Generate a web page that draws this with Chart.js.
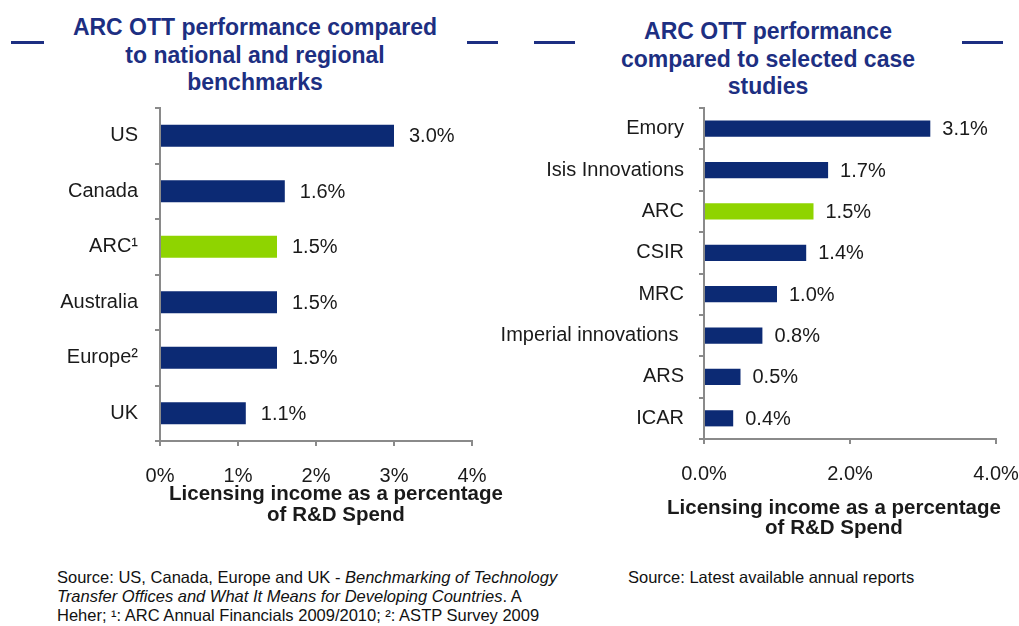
<!DOCTYPE html>
<html>
<head>
<meta charset="utf-8">
<script src="https://cdn.jsdelivr.net/npm/chart.js@4.4.0/dist/chart.umd.min.js"></script>
<style>
  body { margin: 0; background: #fff; font-family: "Liberation Sans", Arial, sans-serif; }
  #page { position: relative; width: 1019px; height: 626px; overflow: hidden; }
  .title { position: absolute; text-align: center; font-weight: bold; font-size: 23px; line-height: 27.5px; color: #1d2f82; }
  .dash { position: absolute; height: 3px; background: #1d2f82; top: 41px; }
  .axis-title { position: absolute; text-align: center; font-weight: bold; font-size: 20.5px; color: #1a1a1a; white-space: nowrap; }
  .note { position: absolute; font-size: 16.5px; line-height: 19px; color: #111; white-space: nowrap; }
  canvas { position: absolute; top: 0; }
</style>
</head>
<body>
<div id="page">
  <div class="dash" style="left:11px;width:33px"></div>
  <div class="dash" style="left:467px;width:31px"></div>
  <div class="title" style="left:45px;width:420px;top:14px">ARC OTT performance compared<br>to national and regional<br>benchmarks</div>

  <div class="dash" style="left:534px;width:41px"></div>
  <div class="dash" style="left:962px;width:41px"></div>
  <div class="title" style="left:568px;width:400px;top:18px">ARC OTT performance<br>compared to selected case<br>studies</div>

  <div style="position:absolute;left:0;top:0;width:507px;height:626px;overflow:hidden">
    <canvas id="leftChart" style="left:0"></canvas>
    <div class="axis-title" style="left:136px;width:400px;top:482px;line-height:21px">Licensing income as a percentage<br>of R&amp;D Spend</div>
  </div>
  <canvas id="rightChart" style="left:480px"></canvas>
  <div class="axis-title" style="left:634px;width:400px;top:497px;line-height:20px">Licensing income as a percentage<br>of R&amp;D Spend</div>

  <div class="note" style="left:57px;top:568px">Source: US, Canada, Europe and UK - <i>Benchmarking of Technology</i><br><i>Transfer Offices and What It Means for Developing Countries</i>. A<br>Heher; ¹: ARC Annual Financials 2009/2010; ²: ASTP Survey 2009</div>
  <div class="note" style="left:628px;top:568px">Source: Latest available annual reports</div>
</div>

<script>
// Datos
const benchmarkLabels = ['US', 'Canada', 'ARC¹', 'Australia', 'Europe²', 'UK'];
const benchmarkValues = [3.0, 1.6, 1.5, 1.5, 1.5, 1.1];
const benchmarkTicks = [0, 1, 2, 3, 4];

const caseLabels = ['Emory', 'Isis Innovations', 'ARC', 'CSIR', 'MRC', 'Imperial innovations ', 'ARS', 'ICAR'];
const caseValues = [3.1, 1.7, 1.5, 1.4, 1.0, 0.8, 0.5, 0.4];
const caseTicks = [0, 2, 4];

const NAVY = '#0c2a74';
const GREEN = '#8fd400';
const AXIS = '#8a8a8a';
const FONT = '"Liberation Sans", Arial, sans-serif';

// etiquetas de valor al final de cada barra
function valueLabels(gap) {
    return {
        id: 'valueLabels',
        afterDatasetsDraw(chart) {
            const ctx = chart.ctx;
            const meta = chart.getDatasetMeta(0);
            const values = chart.data.datasets[0].data;
            ctx.save();
            ctx.font = '20px ' + FONT;
            ctx.fillStyle = '#1a1a1a';
            ctx.textBaseline = 'middle';
            ctx.textAlign = 'left';
            meta.data.forEach((bar, i) => {
                ctx.fillText(values[i].toFixed(1) + '%', bar.x + gap, bar.y + 1);
            });
            ctx.restore();
        }
    };
}

function makeChart(canvasId, w, h, labels, values, ticks, opts) {
    const canvas = document.getElementById(canvasId);
    canvas.width = w;
    canvas.height = h;
    canvas.style.width = w + 'px';
    canvas.style.height = h + 'px';
    return new Chart(canvas, {
        type: 'bar',
        data: {
            labels: labels,
            datasets: [{
                data: values,
                backgroundColor: labels.map(l => l.startsWith('ARC') ? GREEN : NAVY),
                borderWidth: 0,
                barPercentage: opts.barPct,
                categoryPercentage: 1
            }]
        },
        options: {
            indexAxis: 'y',
            responsive: false,
            animation: false,
            layout: { padding: { top: 108, right: opts.padRight, left: 0, bottom: 0 } },
            plugins: { legend: { display: false }, tooltip: { enabled: false } },
            scales: {
                x: {
                    min: ticks[0],
                    max: ticks[ticks.length - 1],
                    afterBuildTicks: (scale) => { scale.ticks = ticks.map(v => ({ value: v })); },
                    afterFit: (scale) => {
                        scale.height = opts.xHeight;
                        scale.paddingLeft = 0;
                        scale.paddingRight = 0;
                    },
                    grid: { drawOnChartArea: false, drawTicks: true, tickLength: 5, color: AXIS, lineWidth: 2 },
                    border: { color: AXIS, width: 2 },
                    ticks: {
                        padding: opts.xPad,
                        color: '#1a1a1a',
                        font: { family: FONT, size: 20 },
                        maxRotation: 0,
                        callback: (v) => opts.decimals ? v.toFixed(opts.decimals) + '%' : v + '%'
                    }
                },
                y: {
                    afterFit: (scale) => { scale.width = opts.yWidth; },
                    grid: { drawOnChartArea: false, drawTicks: true, tickLength: 5, color: AXIS, lineWidth: 2, offset: true },
                    border: { color: AXIS, width: 2 },
                    ticks: {
                        padding: opts.yPad,
                        color: '#1a1a1a',
                        font: { family: FONT, size: 20 }
                    }
                }
            }
        },
        plugins: [valueLabels(opts.gap)]
    });
}

const leftChart = makeChart('leftChart', 510, 500, benchmarkLabels, benchmarkValues, benchmarkTicks, {
    barPct: 0.4, padRight: 38, xHeight: 59, yWidth: 160, xPad: 18, yPad: 17, gap: 15, decimals: 0
});

const rightChart = makeChart('rightChart', 539, 500, caseLabels, caseValues, caseTicks, {
    barPct: 0.39, padRight: 23, xHeight: 61, yWidth: 224, xPad: 18, yPad: 15, gap: 12, decimals: 1
});
</script>
</body>
</html>
